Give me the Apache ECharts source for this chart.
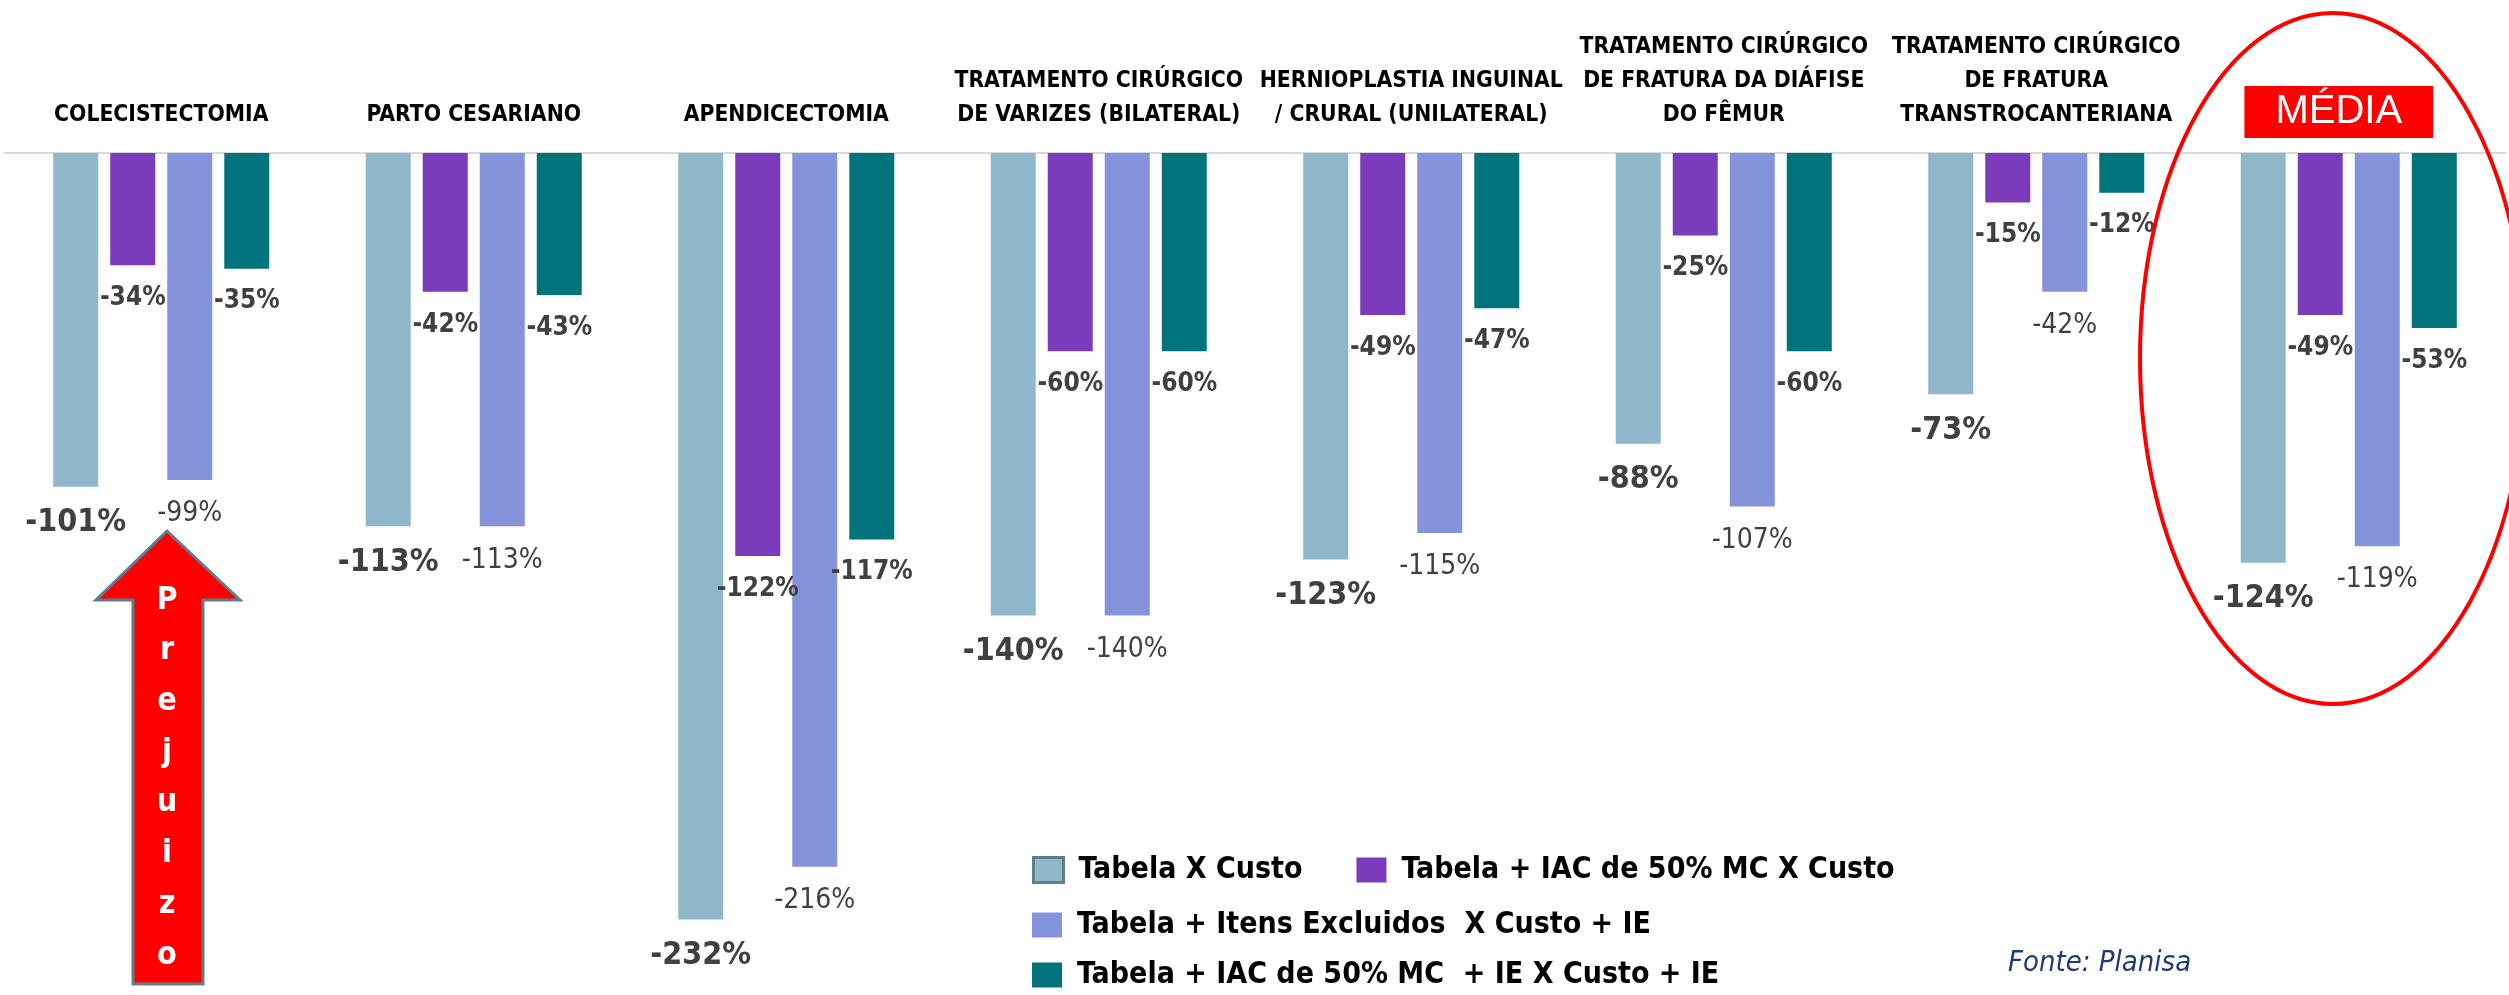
<!DOCTYPE html>
<html>
<head>
<meta charset="utf-8">
<script src="https://cdn.jsdelivr.net/npm/echarts@6/dist/echarts.min.js"></script>
<style>
html,body{margin:0;padding:0;background:#fff;}
#chart{width:2509px;height:995px;}
</style>
</head>
<body>
<div id="chart"></div>
<script>
const categories = [
  'COLECISTECTOMIA',
  'PARTO CESARIANO',
  'APENDICECTOMIA',
  'TRATAMENTO CIRÚRGICO\nDE VARIZES (BILATERAL)',
  'HERNIOPLASTIA INGUINAL\n/ CRURAL (UNILATERAL)',
  'TRATAMENTO CIRÚRGICO\nDE FRATURA DA DIÁFISE\nDO FÊMUR',
  'TRATAMENTO CIRÚRGICO\nDE FRATURA\nTRANSTROCANTERIANA',
  'MÉDIA'
];
const seriesNames = [
  'Tabela X Custo',
  'Tabela + IAC de 50% MC X Custo',
  'Tabela + Itens Excluidos  X Custo + IE',
  'Tabela + IAC de 50% MC  + IE X Custo + IE'
];
const tabelaCusto = [-101, -113, -232, -140, -123, -88, -73, -124];
const tabelaIac = [-34, -42, -122, -60, -49, -25, -15, -49];
const tabelaItens = [-99, -113, -216, -140, -115, -107, -42, -119];
const tabelaIacIe = [-35, -43, -117, -60, -47, -60, -12, -53];
const sourceText = 'Fonte: Planisa';
const arrowText = 'Prejuizo';

const NARROW = "'DejaVu Sans Condensed', 'DejaVu Sans', sans-serif";
const colors = ['#8FB8CA', '#7B3CBB', '#8593DA', '#00737D'];
const seriesData = [tabelaCusto, tabelaIac, tabelaItens, tabelaIacIe];
const labelStyles = [
  {fontSize: 32, fontWeight: 'bold'},
  {fontSize: 26, fontWeight: 'bold'},
  {fontSize: 28, fontWeight: 'normal'},
  {fontSize: 26, fontWeight: 'bold'}
];

const chart = echarts.init(document.getElementById('chart'), null, {renderer: 'canvas'});

const series = seriesNames.map((name, i) => ({
  name: name,
  type: 'bar',
  data: seriesData[i],
  barWidth: 45,
  barGap: '26.7%',
  itemStyle: {color: colors[i]},
  label: {
    show: true,
    position: 'bottom',
    distance: 20,
    formatter: '{c}%',
    color: '#404040',
    fontFamily: NARROW,
    fontSize: labelStyles[i].fontSize,
    fontWeight: labelStyles[i].fontWeight
  }
}));

const legendCommon = {
  orient: 'horizontal',
  itemWidth: 30,
  itemHeight: 25,
  itemGap: 54,
  icon: 'rect',
  textStyle: {
    fontFamily: NARROW,
    fontSize: 30,
    fontWeight: 'bold',
    color: '#000',
    padding: [0, 0, 0, 10]
  }
};

const arrowLetters = arrowText.split('').join('\n');

chart.setOption({
  animation: false,
  backgroundColor: '#ffffff',
  grid: {left: 5, right: 4, top: 153, bottom: 16, containLabel: false},
  xAxis: {
    type: 'category',
    position: 'top',
    data: categories,
    axisLine: {show: true, onZero: false, lineStyle: {color: '#D9D9D9', width: 2}},
    axisTick: {show: false},
    axisLabel: {
      interval: 0,
      margin: 21,
      fontFamily: NARROW,
      fontSize: 22.7,
      fontWeight: 'bold',
      lineHeight: 34,
      color: '#000',
      formatter: function (v) {
        if (v === 'MÉDIA') return '{m|MÉDIA}{s|}';
        return v;
      },
      rich: {
        m: {
          backgroundColor: '#FF0000',
          color: '#ffffff',
          fontFamily: "'Liberation Sans', Arial, sans-serif",
          fontSize: 40,
          fontWeight: 'normal',
          lineHeight: 40,
          padding: [6, 31, 6, 31]
        },
        s: {width: 20, lineHeight: 40}
      }
    },
    splitLine: {show: false}
  },
  yAxis: {
    type: 'value',
    min: -250,
    max: 0,
    show: false,
    splitLine: {show: false}
  },
  legend: [
    Object.assign({}, legendCommon, {
      left: 1027, top: 850,
      data: [
        {name: seriesNames[0], itemStyle: {borderColor: '#5E7E8E', borderWidth: 3}},
        {name: seriesNames[1]}
      ]
    }),
    Object.assign({}, legendCommon, {left: 1027, top: 905, data: [seriesNames[2]]}),
    Object.assign({}, legendCommon, {left: 1027, top: 955, data: [seriesNames[3]]})
  ],
  series: series,
  graphic: [
    {
      type: 'polygon',
      z: 100,
      shape: {
        points: [[167, 531], [240, 600], [203, 600], [203, 984], [133, 984], [133, 600], [96, 600]]
      },
      style: {fill: '#FF0000', stroke: '#5E7E8E', lineWidth: 3}
    },
    {
      type: 'text',
      z: 101,
      x: 167,
      y: 575,
      style: {
        text: arrowLetters,
        fill: '#ffffff',
        font: "bold 32px " + NARROW,
        lineHeight: 50.7,
        align: 'center',
        verticalAlign: 'top'
      }
    },
    {
      type: 'ellipse',
      z: 100,
      shape: {cx: 2333, cy: 358.5, rx: 193, ry: 345.5},
      style: {fill: 'none', stroke: '#FF0000', lineWidth: 4}
    },
    {
      type: 'text',
      z: 100,
      x: 2008,
      y: 963,
      style: {
        text: sourceText,
        fill: '#1F3A7A',
        font: "italic 29px " + NARROW,
        align: 'left',
        verticalAlign: 'middle'
      }
    }
  ]
});
</script>
</body>
</html>
